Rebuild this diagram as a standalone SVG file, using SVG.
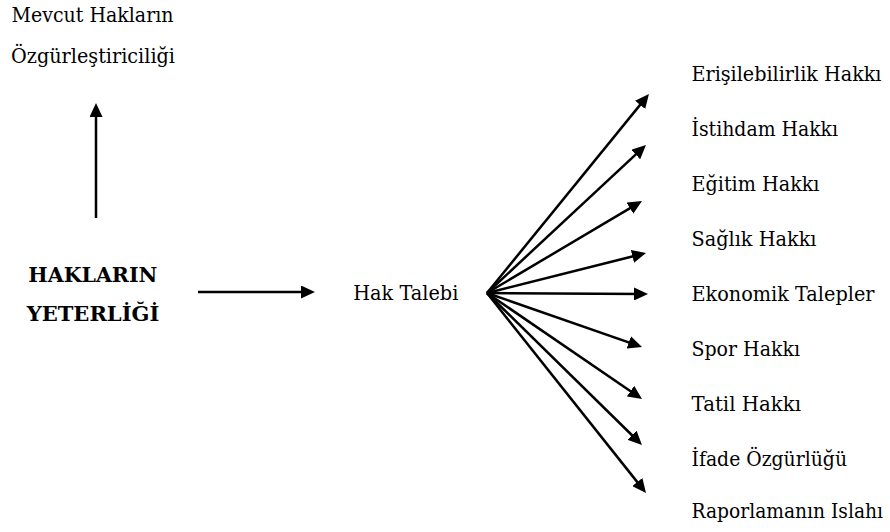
<svg xmlns="http://www.w3.org/2000/svg" width="890" height="532" viewBox="0 0 890 532">
<style>
  .t { font-family: 'DejaVu Serif', serif; font-size: 20px; fill: #000; }
  .b { font-weight: bold; }
  .c { stroke: #000; stroke-width: 2.5; fill: none; marker-end: url(#ah); }
</style>
<defs>
  <marker id="ah" markerUnits="userSpaceOnUse" markerWidth="14" markerHeight="13" refX="9" refY="6.5" orient="auto">
    <path d="M0,0 L14,6.5 L0,13 z" fill="#000"/>
  </marker>
</defs>
<rect width="890" height="532" fill="#fff"/>
<g id="mevcut">
  <text class="t" x="11.5" y="22" textLength="162" lengthAdjust="spacingAndGlyphs">Mevcut Hakların</text>
  <text class="t" x="11" y="63" textLength="164" lengthAdjust="spacingAndGlyphs">Özgürleştiriciliği</text>
</g>
<g id="haklarin">
  <text class="t b" x="28.3" y="282" textLength="129" lengthAdjust="spacingAndGlyphs">HAKLARIN</text>
  <text class="t b" x="26.7" y="321" textLength="132.6" lengthAdjust="spacingAndGlyphs">YETERLİĞİ</text>
</g>
<g id="haktalebi">
  <text class="t" x="353.3" y="300" textLength="105" lengthAdjust="spacingAndGlyphs">Hak Talebi</text>
</g>
<g id="erisilebilirlik"><text class="t" x="691.5" y="80.7" textLength="190" lengthAdjust="spacingAndGlyphs">Erişilebilirlik Hakkı</text></g>
<g id="istihdam"><text class="t" x="691.5" y="135.7" textLength="146.5" lengthAdjust="spacingAndGlyphs">İstihdam Hakkı</text></g>
<g id="egitim"><text class="t" x="691.5" y="190.7" textLength="128" lengthAdjust="spacingAndGlyphs">Eğitim Hakkı</text></g>
<g id="saglik"><text class="t" x="691.5" y="245.7" textLength="125" lengthAdjust="spacingAndGlyphs">Sağlık Hakkı</text></g>
<g id="ekonomik"><text class="t" x="691.5" y="300.7" textLength="183" lengthAdjust="spacingAndGlyphs">Ekonomik Talepler</text></g>
<g id="spor"><text class="t" x="691.5" y="355.7" textLength="108.5" lengthAdjust="spacingAndGlyphs">Spor Hakkı</text></g>
<g id="tatil"><text class="t" x="691.5" y="410.7" textLength="109.5" lengthAdjust="spacingAndGlyphs">Tatil Hakkı</text></g>
<g id="ifade"><text class="t" x="691.5" y="465.7" textLength="155.5" lengthAdjust="spacingAndGlyphs">İfade Özgürlüğü</text></g>
<g id="raporlama"><text class="t" x="691.5" y="517.5" textLength="191.5" lengthAdjust="spacingAndGlyphs">Raporlamanın Islahı</text></g>
<g id="connectors">
  <line class="c" x1="96" y1="218" x2="96" y2="108"/>
  <line class="c" x1="198" y1="292" x2="310" y2="292"/>
  <line class="c" x1="487" y1="293" x2="645.8" y2="97.9"/>
  <line class="c" x1="487" y1="293" x2="642.3" y2="148.4"/>
  <line class="c" x1="487" y1="293" x2="637.7" y2="203.6"/>
  <line class="c" x1="487" y1="293" x2="641.2" y2="254.2"/>
  <line class="c" x1="487" y1="293" x2="643" y2="294"/>
  <line class="c" x1="487" y1="293" x2="637.3" y2="345.4"/>
  <line class="c" x1="487" y1="293" x2="637.9" y2="396.2"/>
  <line class="c" x1="487" y1="293" x2="638.4" y2="441.5"/>
  <line class="c" x1="487" y1="293" x2="642.9" y2="489.1"/>
</g>
</svg>
